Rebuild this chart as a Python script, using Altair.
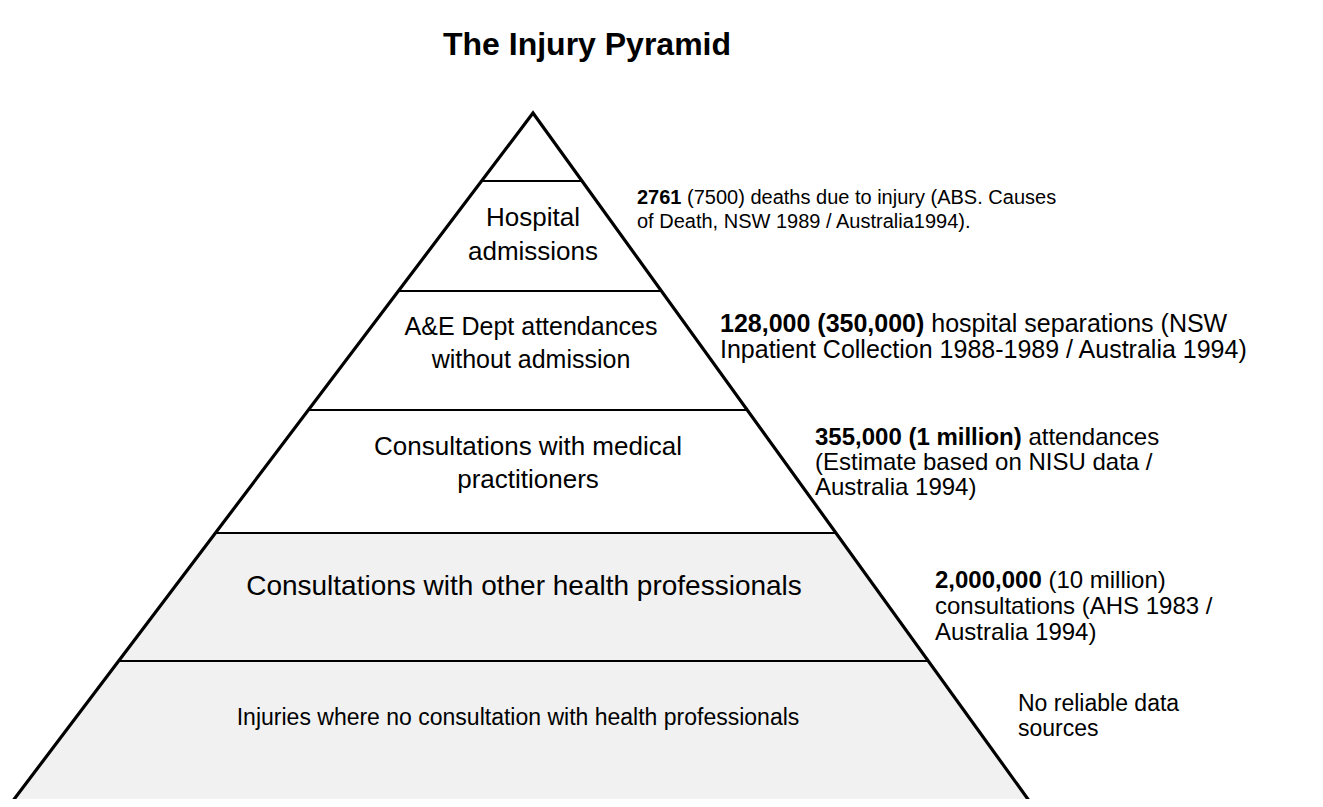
import altair as alt
import pandas as pd

# ---------------- data ----------------
TITLE = "The Injury Pyramid"

# pyramid geometry (page pixel units)
APEX = (533, 113)
BASE_Y = 802
BASE_LEFT = 12
BASE_RIGHT = 1030
LEVEL_BOUNDS = [113, 181, 291, 410, 533, 661, 802]
SHADED = [False, False, False, False, True, True]

LEVEL_LABELS = [
    [],
    ["Hospital", "admissions"],
    ["A&E Dept attendances", "without admission"],
    ["Consultations with medical", "practitioners"],
    ["Consultations with other health professionals"],
    ["Injuries where no consultation with health professionals"],
]
LABEL_X = [533, 533, 531, 528, 524, 518]
LABEL_Y = [[], [218, 252], [327, 360], [447, 480], [587], [718]]
LABEL_SIZE = [26, 26, 25, 26, 28, 23]

# right-hand annotations: (bold lead, rest of first line), following lines
ANN_BOLD = ["2761", "128,000 (350,000)", "355,000 (1 million)", "2,000,000", ""]
ANN_REST = [
    "(7500) deaths due to injury (ABS. Causes",
    "hospital separations (NSW",
    "attendances",
    "(10 million)",
    "No reliable data",
]
ANN_MORE = [
    ["of Death, NSW 1989 / Australia1994)."],
    ["Inpatient Collection 1988-1989 / Australia 1994)"],
    ["(Estimate based on NISU data /", "Australia 1994)"],
    ["consultations (AHS 1983 /", "Australia 1994)"],
    ["sources"],
]
ANN_X = [637, 720, 815, 935, 1018]
ANN_Y = [198, 324, 438, 581, 704]
ANN_STEP = [24, 26, 25, 26, 25]
ANN_SIZE = [20, 25, 24, 24, 23]

# width of each bold lead in em (Arial-metric bold) plus one space
ANN_BOLD_EM = [2.224 + 0.278, 8.172 + 0.278, 8.615 + 0.278, 4.448 + 0.278, 0]

# ---------------- build tables ----------------
def left_x(y):
    return APEX[0] + (BASE_LEFT - APEX[0]) * (y - APEX[1]) / (BASE_Y - APEX[1])

def right_x(y):
    return APEX[0] + (BASE_RIGHT - APEX[0]) * (y - APEX[1]) / (BASE_Y - APEX[1])

band_rows = []
for i in range(len(LEVEL_BOUNDS) - 1):
    for y in (LEVEL_BOUNDS[i], LEVEL_BOUNDS[i + 1]):
        band_rows.append({"band": i, "y": y, "xl": left_x(y), "xr": right_x(y),
                          "fill": "#f1f1f1" if SHADED[i] else "#ffffff"})
bands = pd.DataFrame(band_rows)

edges = pd.DataFrame([
    {"x": BASE_LEFT, "y": BASE_Y, "o": 0},
    {"x": APEX[0], "y": APEX[1], "o": 1},
    {"x": BASE_RIGHT, "y": BASE_Y, "o": 2},
])

rules = pd.DataFrame([{"y": y, "xl": left_x(y), "xr": right_x(y)} for y in LEVEL_BOUNDS[1:]])

lab_rows = []
for i, lines in enumerate(LEVEL_LABELS):
    for j, t in enumerate(lines):
        lab_rows.append({"text": t, "x": LABEL_X[i], "y": LABEL_Y[i][j], "size": LABEL_SIZE[i]})
labels = pd.DataFrame(lab_rows)

bold_rows, norm_rows = [], []
for i in range(len(ANN_X)):
    if ANN_BOLD[i]:
        bold_rows.append({"text": ANN_BOLD[i], "x": ANN_X[i], "y": ANN_Y[i], "size": ANN_SIZE[i]})
    norm_rows.append({"text": ANN_REST[i], "x": ANN_X[i] + ANN_BOLD_EM[i] * ANN_SIZE[i],
                      "y": ANN_Y[i], "size": ANN_SIZE[i]})
    for k, t in enumerate(ANN_MORE[i]):
        norm_rows.append({"text": t, "x": ANN_X[i], "y": ANN_Y[i] + (k + 1) * ANN_STEP[i], "size": ANN_SIZE[i]})
ann_bold = pd.DataFrame(bold_rows)
ann_norm = pd.DataFrame(norm_rows)

title_df = pd.DataFrame([{"text": TITLE, "x": 587, "y": 45}])

# ---------------- chart ----------------
W, H = 1307, 791
xs = alt.Scale(domain=[8, 8 + W], nice=False, zero=False)
ys = alt.Scale(domain=[8, 8 + H], nice=False, zero=False, reverse=True)
X = lambda f: alt.X(f, type="quantitative", scale=xs, axis=None)
Y = lambda f: alt.Y(f, type="quantitative", scale=ys, axis=None)
FONT = "Liberation Sans"

band_layer = alt.Chart(bands).mark_area(orient="horizontal", strokeWidth=0).encode(
    y=Y("y"), x=X("xl"), x2="xr", detail="band:N",
    fill=alt.Fill("fill:N", scale=None),
)

edge_layer = alt.Chart(edges).mark_line(color="black", strokeWidth=3.2, strokeJoin="miter").encode(
    x=X("x"), y=Y("y"), order="o:Q"
)

rule_layer = alt.Chart(rules).mark_rule(color="black", strokeWidth=2.2).encode(
    x=X("xl"), x2="xr", y=Y("y")
)

label_layer = alt.Chart(labels).mark_text(font=FONT, align="center", baseline="middle", color="black").encode(
    x=X("x"), y=Y("y"), text="text:N", size=alt.Size("size:Q", scale=None, legend=None)
)

ann_bold_layer = alt.Chart(ann_bold).mark_text(font=FONT, fontWeight="bold", align="left", baseline="middle", color="black").encode(
    x=X("x"), y=Y("y"), text="text:N", size=alt.Size("size:Q", scale=None, legend=None)
)
ann_norm_layer = alt.Chart(ann_norm).mark_text(font=FONT, align="left", baseline="middle", color="black").encode(
    x=X("x"), y=Y("y"), text="text:N", size=alt.Size("size:Q", scale=None, legend=None)
)

title_layer = alt.Chart(title_df).mark_text(font=FONT, fontWeight="bold", fontSize=32, align="center", baseline="middle", color="black").encode(
    x=X("x"), y=Y("y"), text="text:N"
)

chart = alt.layer(
    band_layer, rule_layer, edge_layer, label_layer, ann_bold_layer, ann_norm_layer, title_layer
).properties(
    width=W, height=H, padding=0, autosize=alt.AutoSizeParams(type="none"), background="white"
).configure_view(stroke=None)

chart.save("out.html", embed_options={"renderer": "svg", "actions": False})
